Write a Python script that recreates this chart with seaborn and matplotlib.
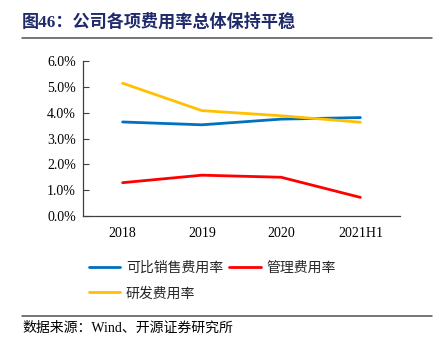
import matplotlib
matplotlib.use("Agg")
import matplotlib.pyplot as plt
import seaborn as sns
import pandas as pd
from matplotlib.ticker import FuncFormatter, FixedLocator
from matplotlib.lines import Line2D

categories = ["2018", "2019", "2020", "2021H1"]
sales_rate = [3.64, 3.53, 3.75, 3.81]
admin_rate = [1.29, 1.58, 1.50, 0.72]
rd_rate = [5.14, 4.08, 3.88, 3.63]
series_names = ["可比销售费用率", "管理费用率", "研发费用率"]
colors = ["#0070C0", "#FF0000", "#FFC000"]
title = "图46：公司各项费用率总体保持平稳"
source = "数据来源：Wind、开源证券研究所"

sns.set_theme(style="white")
plt.rcParams["font.family"] = ["Liberation Serif", "Noto Sans CJK SC", "DejaVu Sans"]

rows = []
for name, vals in zip(series_names, [sales_rate, admin_rate, rd_rate]):
    for c, v in zip(categories, vals):
        rows.append({"year": c, "value": v, "series": name})
df = pd.DataFrame(rows)

fig = plt.figure(figsize=(4.4, 3.44), dpi=100)
ax = fig.add_axes([83/440, 1-216/344, (400-83)/440, (216-61)/344])

sns.lineplot(data=df, x="year", y="value", hue="series", palette=colors,
             hue_order=series_names, linewidth=2.0, ax=ax, legend=False, sort=False)

ax.set_xlim(-0.5, 3.5)
ax.set_ylim(0, 6)
ax.set_yticks([0, 1, 2, 3, 4, 5, 6])
ax.yaxis.set_major_formatter(FuncFormatter(lambda v, p: f"{v:.1f}%"))
ax.set_xticks(range(len(categories)))
ax.set_xticklabels(categories)
ax.xaxis.set_minor_locator(FixedLocator([0.5, 1.5, 2.5]))
ax.tick_params(axis="x", which="major", length=0, labelsize=10, pad=8, colors="black")
ax.tick_params(axis="x", which="minor", direction="in", length=4, width=0.8, color="#404040")
ax.tick_params(axis="y", which="major", direction="in", length=4, width=0.8, labelsize=10,
               color="#404040", left=True, pad=5)
for lab in ax.get_xticklabels() + ax.get_yticklabels():
    lab.set_color("black")
ax.set_xlabel("")
ax.set_ylabel("")
for s in ["top", "right"]:
    ax.spines[s].set_visible(False)
for s in ["left", "bottom"]:
    ax.spines[s].set_color("#404040")
    ax.spines[s].set_linewidth(0.9)
ax.grid(False)

handles = [Line2D([0], [0], color=c, linewidth=2.0) for c in colors]
order = [0, 2, 1]
leg = fig.legend([handles[i] for i in order], [series_names[i] for i in order],
                 loc="upper left", bbox_to_anchor=(76/440, 1-248/344), ncol=2,
                 frameon=False, handlelength=2.3, handletextpad=0.4,
                 columnspacing=0.4, labelspacing=0.85,
                 prop={"family": ["Noto Sans CJK SC"], "size": 10})

fig.text(22/440, 1-22/344, title, fontsize=12.3, fontweight="bold", color="#1F2A6B",
         va="center", ha="left", family=["Liberation Serif", "Noto Sans CJK SC"])
fig.add_artist(Line2D([22/440, 432/440], [1-38/344, 1-38/344], color="#505050", linewidth=1.1))
fig.add_artist(Line2D([22/440, 432/440], [1-316/344, 1-316/344], color="#505050", linewidth=1.1))
fig.text(22/440, 1-328/344, source, fontsize=10, color="black", va="center", ha="left",
         family=["Liberation Serif", "Noto Sans CJK SC"])

fig.savefig("out.png", dpi=100, facecolor="white")
